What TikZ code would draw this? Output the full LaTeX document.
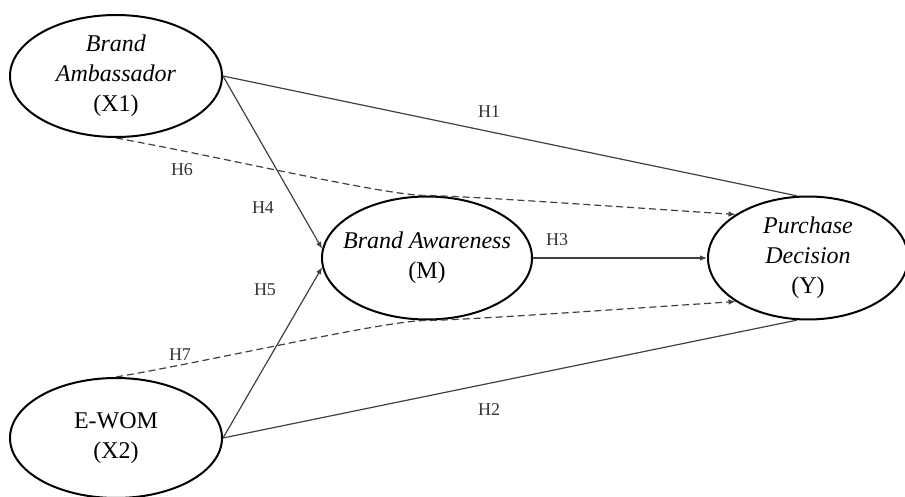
\documentclass[tikz,border=0pt]{standalone}
\usepackage{fontspec}
\setmainfont{Liberation Serif}
\usepackage{tikz}
\usetikzlibrary{shapes.geometric, arrows.meta}

\begin{document}
\begin{tikzpicture}[x=0.5pt, y=-0.5pt,
  construct/.style={ellipse, draw, line width=1pt, inner sep=0pt, align=center,
    font=\fontsize{12}{15}\selectfont},
  path/.style={draw=black!75, line width=0.6pt},
  mediated/.style={path, dash pattern=on 3.5pt off 2pt},
  hyp/.style={-{Latex[length=3.5pt,width=2.8pt]}},
  hlabel/.style={text=black!80, font=\fontsize{9}{10}\selectfont}
]
\useasboundingbox (0,0) rectangle (905,497);

% constructs
\node[construct, minimum width=106pt, minimum height=61pt] (X1) at (116,76)
  {\textit{Brand}\\ \textit{Ambassador}\\ (X1)};
\node[construct, minimum width=106pt, minimum height=60pt] (X2) at (116,438)
  {E-WOM\\ (X2)};
\node[construct, inner xsep=-5.5pt, minimum width=105pt, minimum height=61.5pt] (M) at (427,258)
  {\textit{Brand Awareness}\\ (M)};
\node[construct, minimum width=100pt, minimum height=61.5pt] (Y) at (808,258)
  {\textit{Purchase}\\ \textit{Decision}\\ (Y)};

% direct paths
\draw[path] (X1.east) -- (Y.100);
\draw[path] (X2.east) -- (Y.260);
\draw[path, hyp] (X1.east) -- (M.175);
\draw[path, hyp] (X2.east) -- (M.185);
\draw[path, hyp] (M.east) -- (Y.west);

% mediated paths
\draw[mediated, hyp] (X1.south) .. controls (216,156) and (387,196) .. (M.north)
  .. controls (467,196) and (637,208) .. (Y.149);
\draw[mediated, hyp] (X2.north) .. controls (216,360) and (387,320) .. (M.south)
  .. controls (467,320) and (637,308) .. (Y.211);

% hypothesis labels
\node[hlabel] (h1) at (489,112) {H1};
\node[hlabel] (h2) at (489,410) {H2};
\node[hlabel] (h3) at (557,240) {H3};
\node[hlabel] (h4) at (263,208) {H4};
\node[hlabel] (h5) at (265,290) {H5};
\node[hlabel] (h6) at (182,170) {H6};
\node[hlabel] (h7) at (180,355) {H7};

\end{tikzpicture}
\end{document}
